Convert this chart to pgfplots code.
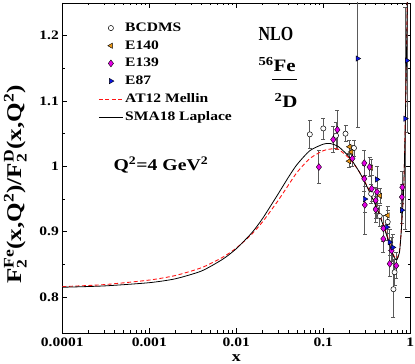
\documentclass[border=0pt]{standalone}
\usepackage{amsmath}
\usepackage{fontspec}
\setmainfont{Liberation Serif}[FakeStretch=1.2]
\newfontfamily\nlofont{Liberation Serif}[FakeStretch=0.8]
\usepackage{pgfplots}
\pgfplotsset{compat=1.18}
\definecolor{e140}{RGB}{235,150,20}
\definecolor{e139}{RGB}{230,0,230}
\definecolor{e87}{RGB}{10,20,230}
\definecolor{ebar}{RGB}{90,90,90}
\definecolor{at12}{RGB}{255,20,20}

\begin{document}
\begin{tikzpicture}
\useasboundingbox (-62.3bp,-31bp) rectangle (352.7bp,333bp);
\begin{axis}[
  scale only axis,
  width=348bp, height=330bp,
  xmode=log,
  xmin=1e-4, xmax=1,
  ymin=0.745, ymax=1.25,
  xtick={1e-4,1e-3,1e-2,1e-1,1},
  xticklabels={0.0001,0.001,0.01,0.1,1},
  ytick={0.8,0.9,1,1.1,1.2},
  yticklabels={0.8,0.9,1,1.1,1.2},
  minor y tick num=1,
  xtick pos=both, ytick pos=both,
  tick align=inside,
  major tick length=5bp, minor tick length=2.5bp,
  tick style={black, line width=0.6pt},
  axis line style={line width=0.8pt},
  tick label style={font=\fontsize{13}{15}\selectfont\bfseries},
  xticklabel style={yshift=-1bp},
  xlabel={x},
  xlabel style={font=\fontsize{15}{16}\selectfont\bfseries, at={(axis description cs:0.5,-0.075)}, anchor=center},
  ylabel={F$_{\textbf{2}}^{\textbf{Fe}}$(x,Q$^{\textbf{2}}$)/F$_{\textbf{2}}^{\textbf{D}}$(x,Q$^{\textbf{2}}$)},
  ylabel style={font=\fontsize{21}{23}\selectfont\bfseries, at={(axis description cs:-0.135,0.45)}, anchor=center},
  legend style={at={(0.095,0.952)}, anchor=north west,
    draw=none, fill=none,
    font=\fontsize{13}{15}\selectfont\bfseries,
    row sep=3.6bp},
  legend cell align=left,
  legend image code/.code={\draw[mark repeat=2,mark phase=2,#1] plot coordinates {(0cm,0cm) (0.42cm,0cm) (0.84cm,0cm)};},
]

% BCDMS
\addplot[only marks, mark=*, mark size=2.6pt, mark options={fill=white, draw=black, line width=0.5pt},
  error bars/.cd, y dir=both, y explicit, error bar style={ebar, line width=0.8pt},
  error mark options={ebar, mark size=2pt, line width=0.8pt, rotate=90}]
  table[x=x, y=y, y error=e] {
x      y      e
0.070  1.049  0.022
0.100  1.058  0.016
0.140  1.047  0.020
0.180  1.050  0.012
0.225  1.028  0.012
0.355  0.958  0.014
0.405  0.935  0.014
0.445  0.924  0.016
0.550  0.915  0.018
0.640  0.812  0.043
0.660  0.838  0.020
};
\addlegendentry{BCDMS}

% E140
\addplot[only marks, mark=triangle*, mark size=3.1pt, mark options={fill=e140, draw=black, line width=0.4pt, rotate=90},
  error bars/.cd, y dir=both, y explicit, error bar style={ebar, line width=0.8pt},
  error mark options={ebar, mark size=2pt, line width=0.8pt, rotate=90}]
  table[x=x, y=y, y error=e] {
x      y      e
0.200  1.030  0.010
0.210  1.022  0.010
0.198  1.008  0.010
0.355  0.998  0.012
0.450  0.955  0.012
0.550  0.925  0.014
};
\addlegendentry{E140}

% E139
\addplot[only marks, mark=diamond*, mark size=3.5pt, mark options={fill=e139, draw=black, line width=0.4pt},
  error bars/.cd, y dir=both, y explicit, error bar style={ebar, line width=0.8pt},
  error mark options={ebar, mark size=2pt, line width=0.8pt, rotate=90}]
  table[x=x, y=y, y error=e] {
x      y      e
0.089  0.999  0.025
0.130  1.041  0.020
0.145  1.056  0.030
0.216  1.012  0.012
0.296  1.005  0.020
0.296  0.981  0.020
0.300  0.941  0.045
0.340  0.999  0.015
0.360  0.966  0.020
0.400  0.948  0.020
0.400  0.934  0.020
0.414  0.961  0.020
0.490  0.905  0.020
0.490  0.889  0.020
0.580  0.851  0.020
0.610  0.871  0.020
0.690  0.848  0.020
0.800  0.953  0.020
0.810  0.968  0.025
};
\addlegendentry{E139}

% E87
\addplot[only marks, mark=triangle*, mark size=3.1pt, mark options={fill=e87, draw=black, line width=0.4pt, rotate=-90},
  error bars/.cd, y dir=both, y explicit, error bar style={ebar, line width=0.8pt},
  error mark options={ebar, mark size=2pt, line width=0.8pt, rotate=90}]
  table[x=x, y=y, y error=e] {
x      y      e
0.248  1.165  0.106
0.300  0.950  0.020
0.414  0.980  0.020
0.540  0.907  0.020
0.580  0.884  0.020
0.630  0.876  0.020
0.800  0.933  0.020
0.875  1.073  0.170
0.915  1.162  0.110
};
\addlegendentry{E87}

% AT12 Mellin
\addplot[color=at12, line width=0.9pt, dash pattern=on 4bp off 2.5bp, smooth, tension=0.4] table {
1e-4   0.816
3e-4   0.819
1e-3   0.826
2e-3   0.833
4e-3   0.845
7e-3   0.861
0.01   0.875
0.015  0.896
0.02   0.915
0.03   0.947
0.04   0.972
0.05   0.991
0.07   1.012
0.1    1.024
0.13   1.027
0.15   1.026
0.2    1.012
0.25   0.995
0.3    0.977
0.4    0.942
0.5    0.908
0.6    0.876
0.65   0.863
0.7    0.859
0.75   0.870
0.78   0.895
0.81   0.930
0.845  0.977
0.875  1.068
0.9    1.155
0.925  1.265
};
\addlegendentry{AT12 Mellin}

% SMA18 Laplace
\addplot[black, line width=0.8pt, smooth, tension=0.4] table {
1e-4   0.815
3e-4   0.817
1e-3   0.822
2e-3   0.828
4e-3   0.840
7e-3   0.858
0.01   0.874
0.015  0.898
0.02   0.920
0.03   0.957
0.04   0.984
0.05   1.003
0.07   1.024
0.1    1.034
0.12   1.035
0.15   1.030
0.2    1.014
0.25   0.995
0.3    0.976
0.4    0.940
0.5    0.906
0.6    0.874
0.65   0.861
0.7    0.857
0.75   0.868
0.78   0.893
0.81   0.928
0.845  0.975
0.875  1.065
0.9    1.150
0.925  1.260
};
\addlegendentry{SMA18 Laplace}

\node[font=\nlofont\fontsize{20}{22}\selectfont\bfseries] at (axis cs:0.0286,1.202) {NLO};
\node[font=\fontsize{17.5}{19}\selectfont\bfseries] at (axis cs:0.0295,1.156) {$^{\textbf{56}}$Fe};
\draw[line width=1pt] (axis cs:0.0258,1.133) -- (axis cs:0.0499,1.133);
\node[font=\fontsize{17.5}{19}\selectfont\bfseries] at (axis cs:0.0373,1.101) {$^{\textbf{2}}$D};
\node[font=\fontsize{16.5}{18}\selectfont\bfseries] at (axis cs:0.00136,1.0015) {Q$^{\textbf{2}}$=4 GeV$^{\textbf{2}}$};
\end{axis}
\end{tikzpicture}
\end{document}
